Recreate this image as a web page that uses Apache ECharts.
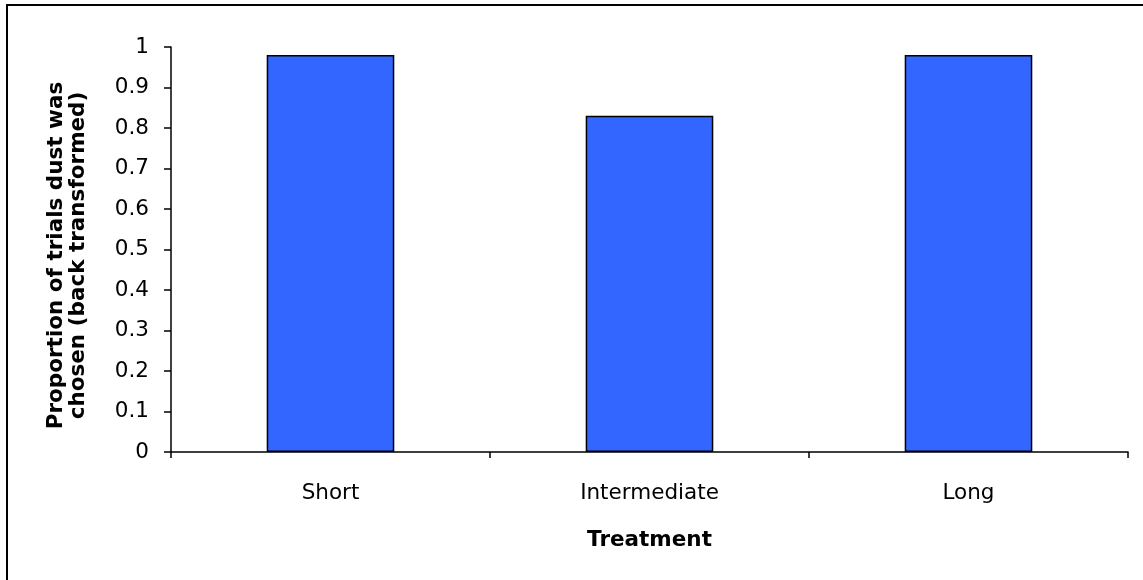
<!DOCTYPE html>
<html>
<head>
<meta charset="utf-8">
<script src="https://cdn.jsdelivr.net/npm/echarts@6/dist/echarts.min.js"></script>
<style>
html,body{margin:0;padding:0;background:#fff;}
#frame{position:absolute;left:6px;top:4px;width:1137px;height:576px;border-left:2px solid #000;border-top:2px solid #000;box-sizing:border-box;}
#chart{position:absolute;left:0;top:0;width:1143px;height:580px;}
</style>
</head>
<body>
<div id="frame"></div>
<div id="chart"></div>
<script>
var categories = ['Short', 'Intermediate', 'Long'];
var values = [0.98, 0.83, 0.98];
var yTicks = [0, 0.1, 0.2, 0.3, 0.4, 0.5, 0.6, 0.7, 0.8, 0.9, 1];

var chart = echarts.init(document.getElementById('chart'), null, {renderer: 'canvas'});
var font = 'DejaVu Sans, Arial, sans-serif';
chart.setOption({
  animation: false,
  grid: {left: 171, right: 15, top: 47, bottom: 128, containLabel: false},
  xAxis: {
    type: 'category',
    data: categories,
    name: 'Treatment',
    nameLocation: 'middle',
    nameGap: 77,
    nameTextStyle: {fontFamily: font, fontSize: 21.5, fontWeight: 'bold', color: '#000'},
    axisLine: {lineStyle: {color: '#000', width: 1.5}},
    axisTick: {show: true, inside: false, length: 6, alignWithLabel: false, lineStyle: {color: '#000', width: 1.5}},
    axisLabel: {fontFamily: font, fontSize: 21.5, color: '#000', margin: 30}
  },
  yAxis: {
    type: 'value',
    min: 0, max: 1, interval: 0.1,
    name: 'Proportion of trials dust was\nchosen (back transformed)',
    nameLocation: 'middle',
    nameGap: 82,
    nameTextStyle: {fontFamily: font, fontSize: 21.5, fontWeight: 'bold', color: '#000', lineHeight: 22, align: 'center', padding: [0, 12, 0, 0]},
    splitLine: {show: false},
    axisLine: {show: true, lineStyle: {color: '#000', width: 1.5}},
    axisTick: {show: true, inside: false, length: 7, lineStyle: {color: '#000', width: 1.5}},
    axisLabel: {fontFamily: font, fontSize: 21.5, color: '#000', margin: 22,
      formatter: function (v) { var r = Math.round(v * 10) / 10; return yTicks.indexOf(r) >= 0 ? String(r) : ''; }}
  },
  series: [{
    type: 'bar',
    data: values,
    barWidth: '40%',
    itemStyle: {color: '#3366FF', borderColor: '#000', borderWidth: 1.5}
  }]
});
</script>
</body>
</html>
